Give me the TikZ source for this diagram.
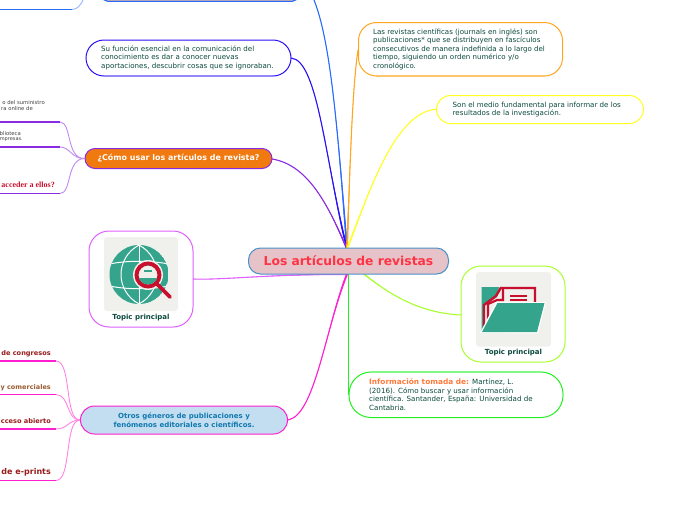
\documentclass[tikz,border=0pt]{standalone}
\usepackage{fontspec}
\usetikzlibrary{calc}
\setmainfont{DejaVu Sans}
\newfontfamily\serifb{Liberation Serif}
\definecolor{txt}{HTML}{0B4A3C}
\definecolor{teal}{HTML}{34A58C}
\definecolor{crim}{HTML}{C8102E}
\definecolor{pap}{HTML}{F0F0EC}
\definecolor{purp}{HTML}{8A2BE2}
\definecolor{mag}{HTML}{FF1FD0}
\definecolor{dblue}{HTML}{2A10F5}
\definecolor{mblue}{HTML}{2A6BFF}
\definecolor{lime}{HTML}{A8FF2E}
\definecolor{grn}{HTML}{22F022}
\definecolor{orng}{HTML}{FFA51F}
\definecolor{yel}{HTML}{FFFF22}
\definecolor{viol}{HTML}{E060FF}
\definecolor{cfill}{HTML}{E6C3C8}
\definecolor{cdraw}{HTML}{4A90C8}
\definecolor{ctxt}{HTML}{FF3344}
\definecolor{ofill}{HTML}{F07A10}
\definecolor{bfill}{HTML}{C3DEF0}
\definecolor{btxt}{HTML}{1078B0}
\definecolor{itxt}{HTML}{FF7A3C}
\definecolor{dred}{HTML}{981C1C}
\definecolor{dbrn}{HTML}{9A5A30}
\newcommand{\taper}[6]{% colour, start, c1, c2, end, half-width offset
 \fill[#1] (#2) .. controls (#3) and (#4) .. ($(#5)+(#6)$) -- ($(#5)-(#6)$) .. controls (#4) and (#3) .. (#2) -- cycle;
 \draw[#1,line width=1.1pt] (#2) .. controls (#3) and (#4) .. (#5);
}
\tikzset{
 x=1pt,y=-1pt,
 box/.style={draw,rounded corners=#1,line width=1pt,fill=white},
 body/.style={font=\fontsize{7.1}{8.5}\selectfont,text=txt,anchor=north west,align=left,inner sep=0pt},
 topiccap/.style={font=\fontsize{7}{8}\selectfont\bfseries,text=txt,inner sep=0pt},
 cut/.style={anchor=east,inner sep=0pt},
 leaf/.style={line width=.9pt},
 edge1/.style={line width=1.5pt},
}
\begin{document}
\begin{tikzpicture}
\useasboundingbox (0,0) rectangle (696,520);
\coordinate (hub) at (347,249);
\coordinate (hubb) at (347,274);
% central connectors
\taper{mblue}{314,0}{330,40}{337,120}{hub}{1,0}
\taper{dblue}{291,58}{318,60}{325,160}{hub}{1,0}
\taper{purp}{272,159}{310,165}{330,210}{hub}{1,0}
\taper{orng}{358,50}{352,90}{350,170}{hub}{1,0}
\taper{yel}{437,109}{395,112}{370,190}{hub}{1,0}
\taper{viol}{193,279}{225,280}{255,275}{hubb}{0,1}
\taper{lime}{461,315}{420,313}{390,295}{364,274}{1,0}
\draw[edge1,grn] (348.5,274) -- (348.5,395);
\taper{mag}{288,420}{315,415}{325,330}{hubb}{1.1,0}
% top fragments
\draw[line width=1.2pt,mblue,fill=orange!45,rounded corners=5pt] (102.5,-8) rectangle (297.5,1.2);
\draw[line width=1.4pt,mblue] (0,9.5) -- (72,9.5);
\draw[leaf,mblue!50] (72,9.5) .. controls (78,9.5) and (81,4) .. (83,0);
% Central
\node[box=12pt,draw=cdraw,fill=cfill,minimum width=200pt,minimum height=26pt,inner sep=0pt,font=\fontsize{12.3}{14}\selectfont\bfseries,text=ctxt] (central) at (348.5,261) {Los artículos de revistas};
% text boxes
\draw[box=18pt,draw=dblue] (86,40) rectangle (291,76);
\draw[line width=1.3pt,dblue!50] (104,76) -- (273,76);
\node[body] (funcion) at (101,45.5) {Su función esencial en la comunicación del\\conocimiento es dar a conocer nuevas\\aportaciones, descubrir cosas que se ignoraban.};
\draw[box=18pt,draw=orng] (358.5,22.5) rectangle (562.5,76);
\draw[line width=1.3pt,orng!65] (376,76) -- (545,76);
\node[body,font=\fontsize{7.05}{8.5}\selectfont] (revistas) at (373,28.5) {Las revistas científicas (journals en inglés) son\\publicaciones* que se distribuyen en fascículos\\consecutivos de manera indefinida a lo largo del\\tiempo, siguiendo un orden numérico y/o\\cronológico.};
\draw[box=14pt,draw=yel] (436.5,95.5) rectangle (643.5,123.5);
\node[body] (medio) at (452.5,101.5) {Son el medio fundamental para informar de los\\resultados de la investigación.};
\draw[box=22pt,draw=grn] (349,372) rectangle (563,417.5);
\draw[line width=1.3pt,grn!55] (371,372) -- (541,372);
\node[body] (info) at (369,378.5) {\textcolor{itxt}{\fontsize{7.4}{8.5}\selectfont\bfseries Información tomada de:} Martínez, L.\\(2016). Cómo buscar y usar información\\científica. Santander, España: Universidad de\\Cantabria.};
% Orange
\node[box=10pt,draw=purp,fill=ofill,minimum width=187pt,minimum height=20pt,inner sep=0pt,text=white,font=\fontsize{7.95}{9}\selectfont\bfseries] (usar) at (178.5,158.5) {¿Cómo usar los artículos de revista?};
% Otros
\node[box=14pt,draw=mag,fill=bfill,minimum width=207pt,minimum height=28pt,inner sep=0pt,text=btxt,font=\fontsize{7}{9.2}\selectfont\bfseries,align=center] (otros) at (184,420) {Otros géneros de publicaciones y\\fenómenos editoriales o científicos.};
% leaves purple
\coordinate (pa) at (60,122); \coordinate (pb) at (60,147); \coordinate (pc) at (60,193.5);
\draw[line width=1.3pt,purp] (0,122) -- (pa);
\draw[line width=1.3pt,purp] (0,147) -- (pb);
\draw[line width=1.3pt,purp] (0,193.5) -- (pc);
\draw[leaf,purp!55] (pa) .. controls (72,122) and (66,159) .. (usar.west);
\draw[leaf,purp!55] (pb) .. controls (70,147) and (72,159) .. (usar.west);
\draw[leaf,purp!55] (pc) .. controls (72,193.5) and (66,159) .. (usar.west);
\node[cut,font=\fontsize{5.3}{7}\selectfont,text=black!75] (l1) at (45,103) {o del suministro};
\node[cut,font=\fontsize{5.3}{7}\selectfont,text=black!75] (l2) at (33,109) {ra online de};
\node[cut,font=\fontsize{5.3}{7}\selectfont,text=black!75] (l3) at (21,134) {blioteca};
\node[cut,font=\fontsize{5}{7}\selectfont,text=black!75] (l4) at (23,140) {mpresas.};
\node[cut,font=\fontsize{8}{9}\selectfont\serifb\bfseries,text=crim] (l5) at (55,185) {acceder a ellos?};
% leaves magenta
\coordinate (ma) at (56,361); \coordinate (mb) at (56,394.5); \coordinate (mc) at (56,429); \coordinate (md) at (56,480.5);
\foreach \pp/\yy in {ma/361,mb/394.5,mc/429,md/480.5}{
 \draw[line width=1.3pt,mag] (0,\yy) -- (\pp);
}
\draw[leaf,mag!55] (ma) .. controls (72,361) and (64,420) .. (otros.west);
\draw[leaf,mag!55] (mb) .. controls (70,395) and (66,420) .. (otros.west);
\draw[leaf,mag!55] (mc) .. controls (68,429) and (68,420) .. (otros.west);
\draw[leaf,mag!55] (md) .. controls (72,480.5) and (64,420) .. (otros.west);
\node[cut,font=\fontsize{6.6}{8}\selectfont\bfseries,text=dred] (m1) at (51,353.5) {de congresos};
\node[cut,font=\fontsize{6.5}{8}\selectfont\bfseries,text=dbrn] (m2) at (51,387.5) {y comerciales};
\node[cut,font=\fontsize{6.6}{8}\selectfont\bfseries,text=dred] (m3) at (51,421.5) {cceso abierto};
\node[cut,font=\fontsize{8}{10}\selectfont\bfseries,text=dred] (m4) at (51,472) {de e-prints};
% globe topic
\draw[box=20pt,draw=viol] (89,231) rectangle (193,327);
\fill[pap,rounded corners=3pt] (104,237) rectangle (178,311);
\begin{scope}
\clip (139,274.5) circle (29.5);
\fill[teal] (139,274.5) circle (29.5);
\draw[white,line width=1pt] (139,245) -- (139,304);
\draw[white,line width=1pt] (139,245) .. controls (115,258) and (115,291) .. (139,304);
\draw[white,line width=1pt] (139,245) .. controls (163,258) and (163,291) .. (139,304);
\draw[white,line width=1pt] (105,265) .. controls (125,260) and (153,260) .. (173,265);
\draw[white,line width=1pt] (105,285) .. controls (125,290) and (153,290) .. (173,285);
\end{scope}
\fill[pap] (148,275) circle (15);
\draw[crim,line width=4pt,fill=pap] (148,275) circle (11.5);
\begin{scope}
\clip (148,275) circle (9.5);
\fill[teal] (136,278) rectangle (160,290);
\fill[teal] (136,262) rectangle (160,266);
\fill[teal] (144,270) rectangle (152,271.5);
\end{scope}
\draw[crim,line width=3.8pt,line cap=round] (157,284) -- (170,297);
\node[topiccap] (t1) at (141,317.5) {Topic principal};
% folder topic
\draw[box=20pt,draw=lime] (461,266) rectangle (565,362);
\fill[pap,rounded corners=3pt] (476,272) rectangle (551,346.5);
\fill[teal] (481.5,287) -- (499,287) -- (497,297) -- (484,305) -- (484,330) -- (481.5,330) -- cycle;
\fill[pap] (502,289) rectangle (534,304);
\draw[crim,line width=2.4pt] (484,329) -- (484,305) -- (496,296) -- (500.7,288) -- (535,288) -- (535,303);
\draw[crim,line width=2.2pt] (488,327) -- (488,304) -- (497,300) -- (503,300) -- (503,289);
\fill[crim] (510,294.5) rectangle (527,296.8);
\fill[crim] (510,299) rectangle (527,301.3);
\fill[white] (480,333) -- (496,302) -- (546,302) -- (538,333.5) -- cycle;
\fill[teal] (482,332) -- (497.5,303) -- (544.5,303) -- (537,332) -- cycle;
\node[topiccap] (t2) at (513.5,352.5) {Topic principal};
\end{tikzpicture}
\end{document}
